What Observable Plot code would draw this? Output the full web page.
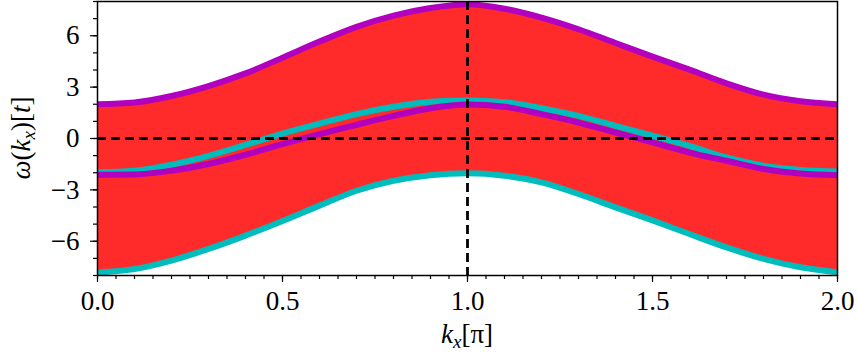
<!DOCTYPE html>
<html>
<head>
<meta charset="utf-8">
<script src="https://cdn.jsdelivr.net/npm/d3@7"></script>
<script src="https://cdn.jsdelivr.net/npm/@observablehq/plot@0.6"></script>
<style>
  html, body { margin: 0; padding: 0; background: #fff; }
  #chart svg { display: block; }
</style>
</head>
<body>
<div id="chart"></div>
<script>
// Momentum samples k_x in units of π
const kx = [0.0, 0.1, 0.2, 0.3, 0.4, 0.5, 0.6, 0.7, 0.8, 0.9, 1.0,
            1.1, 1.2, 1.3, 1.4, 1.5, 1.6, 1.7, 1.8, 1.9, 2.0];

// Outer band edges (units of t)
const upperBand = [2.00, 2.10, 2.48, 3.06, 3.80, 4.72, 5.66, 6.52, 7.18, 7.62, 7.84,
                   7.58, 7.06, 6.38, 5.58, 4.78, 4.02, 3.22, 2.56, 2.18, 2.00];
const lowerBand = [-7.83, -7.62, -7.13, -6.45, -5.67, -4.82, -3.92, -3.05, -2.47, -2.14, -2.03,
                   -2.17, -2.56, -3.24, -4.02, -4.78, -5.58, -6.36, -7.03, -7.52, -7.81];

// Inner branches
const innerPurple = [-2.12, -2.10, -1.88, -1.49, -0.95, -0.33, 0.26, 0.80, 1.32, 1.77, 1.98,
                     1.85, 1.42, 0.93, 0.35, -0.23, -0.82, -1.30, -1.78, -2.04, -2.14];
const innerCyan = [-1.97, -1.88, -1.53, -1.01, -0.37, 0.29, 0.87, 1.42, 1.85, 2.14, 2.22,
                   2.12, 1.77, 1.32, 0.74, 0.16, -0.43, -1.11, -1.59, -1.84, -1.93];

// Axis ticks
const xMajor = [0, 0.5, 1, 1.5, 2];
const yMajor = [-6, -3, 0, 3, 6];

const rows = kx.map((k, i) => ({
  k, hi: upperBand[i], lo: lowerBand[i], p: innerPurple[i], c: innerCyan[i]
}));

const PURPLE = "#b200c0";
const CYAN = "#00bcbc";
const RED = "#ff2b2b";
const FONT = "Liberation Serif";
const SIZE = "27px";
const lineW = 6;

const fmtY = d => d < 0 ? "\u2212" + (-d) : String(d);

const plot = Plot.plot({
  width: 857,
  height: 355,
  marginLeft: 97,
  marginRight: 20,
  marginTop: 1,
  marginBottom: 80,
  x: { domain: [0, 2] },
  y: { domain: [-8, 8] },
  marks: [
    Plot.areaY(rows, { x: "k", y1: "lo", y2: "hi", fill: RED, curve: "monotone-x" }),
    Plot.line(rows, { x: "k", y: "hi", stroke: PURPLE, strokeWidth: lineW, curve: "monotone-x", clip: true }),
    Plot.line(rows, { x: "k", y: "lo", stroke: CYAN, strokeWidth: lineW, curve: "monotone-x", clip: true }),
    Plot.line(rows, { x: "k", y: "c", stroke: CYAN, strokeWidth: lineW, curve: "monotone-x", clip: true }),
    Plot.line(rows, { x: "k", y: "p", stroke: PURPLE, strokeWidth: lineW, curve: "monotone-x", clip: true }),
    Plot.ruleY([0], { stroke: "black", strokeWidth: 2.8, strokeDasharray: "9,5" }),
    Plot.ruleX([1], { stroke: "black", strokeWidth: 2.8, strokeDasharray: "9,5" }),
    // minor ticks
    Plot.axisX({ ticks: d3.range(0, 2.0001, 0.05), tickSize: 4, text: null, label: null, strokeWidth: 1.2 }),
    Plot.axisY({ ticks: d3.range(-8, 8.0001, 1), tickSize: 4, text: null, label: null, strokeWidth: 1.2 }),
    // major ticks with labels
    Plot.axisX({ ticks: xMajor, tickSize: 7, tickPadding: 8, tickFormat: d3.format(".1f"),
                 label: null, strokeWidth: 1.2 }),
    Plot.axisY({ ticks: yMajor, tickSize: 7, tickPadding: 11, tickFormat: fmtY,
                 label: null, strokeWidth: 1.2 }),
    Plot.frame({ stroke: "black", strokeWidth: 1.5 })
  ]
});

document.getElementById("chart").appendChild(plot);

// Serif tick labels
d3.select(plot).style("font-family", FONT).style("font-size", SIZE);
d3.select(plot).selectAll("text").style("font-family", FONT).style("font-size", SIZE);

// Math-style axis titles
const svg = d3.select(plot);
const xs = plot.scale("x"), ys = plot.scale("y");
const cx = (xs.range[0] + xs.range[1]) / 2;
const cy = (ys.range[0] + ys.range[1]) / 2;

function mathText(g, parts) {
  const t = g.append("text")
    .style("font-family", FONT)
    .style("font-size", SIZE)
    .attr("fill", "black")
    .attr("text-anchor", "middle");
  parts.forEach(([s, italic, sub]) => {
    const ts = t.append("tspan").text(s);
    if (italic) ts.style("font-style", "italic");
    if (sub) ts.style("font-size", "19px").attr("dy", 5);
    else if (sub === false) ts.attr("dy", -5);
  });
  return t;
}

mathText(svg.append("g").attr("transform", `translate(${cx},343)`), [
  ["k", true], ["x", true, true], ["[", false, false], ["π", false], ["]", false]
]);

mathText(svg.append("g").attr("transform", `translate(30,${cy}) rotate(-90)`), [
  ["ω", true], ["(", false], ["k", true], ["x", true, true], [")", false, false], ["[", false], ["t", true], ["]", false]
]);
</script>
</body>
</html>
